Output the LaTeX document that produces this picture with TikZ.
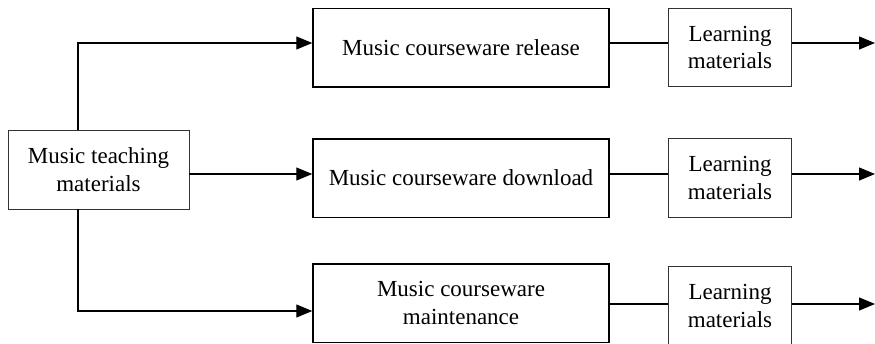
\documentclass[tikz,border=0pt]{standalone}
\usepackage{fontspec}
\setmainfont{Liberation Serif}
\usetikzlibrary{arrows.meta}
\begin{document}
\begin{tikzpicture}[x=1pt,y=-1pt,
  box/.style={draw=black!80, line width=0.9pt, align=center, inner sep=0pt,
    font=\fontsize{23}{27.5}\selectfont},
  bigbox/.style={box, draw=black, line width=1.5pt, minimum width=296pt, minimum height=78.5pt},
  learnbox/.style={box, minimum width=123pt, minimum height=78.5pt},
  link/.style={line width=1.2pt},
  flow/.style={link, -{Triangle[length=16pt,width=13pt]}}]
\useasboundingbox (0,0) rectangle (875,343);

% source box
\node[box, minimum width=181pt, minimum height=79pt] (src) at (98.5,169.5)
  {Music teaching\\materials};

% middle column
\node[bigbox] (rel) at (461,47.5) {Music courseware release};
\node[bigbox] (dwn) at (461,178) {Music courseware download};
\node[bigbox] (mnt) at (461,303) {Music courseware\\maintenance};

% learning materials column
\node[learnbox] (l1) at (730,47.5) {Learning\\materials};
\node[learnbox] (l2) at (730,178) {Learning\\materials};
\node[learnbox] (l3) at (730,306) {Learning\\materials};

% connector heights
\coordinate (y1) at (0,43);
\coordinate (y2) at (0,174);
\coordinate (y3) at (0,304);
\coordinate (yb) at (0,311);
\coordinate (vx) at (78,0);
\coordinate (e1) at (875,43);
\coordinate (e2) at (875,174);
\coordinate (e3) at (875,304);

% branches from the source
\draw[flow] (src.north -| vx) |- (rel.west |- y1);
\draw[flow] (src.east |- y2) -- (dwn.west |- y2);
\draw[flow] (src.south -| vx) |- (mnt.west |- yb);

% middle to learning materials
\draw[link] (rel.east |- y1) -- (l1.west |- y1);
\draw[link] (dwn.east |- y2) -- (l2.west |- y2);
\draw[link] (mnt.east |- y3) -- (l3.west |- y3);

% outputs
\draw[flow] (l1.east |- y1) -- (e1);
\draw[flow] (l2.east |- y2) -- (e2);
\draw[flow] (l3.east |- y3) -- (e3);
\end{tikzpicture}
\end{document}
